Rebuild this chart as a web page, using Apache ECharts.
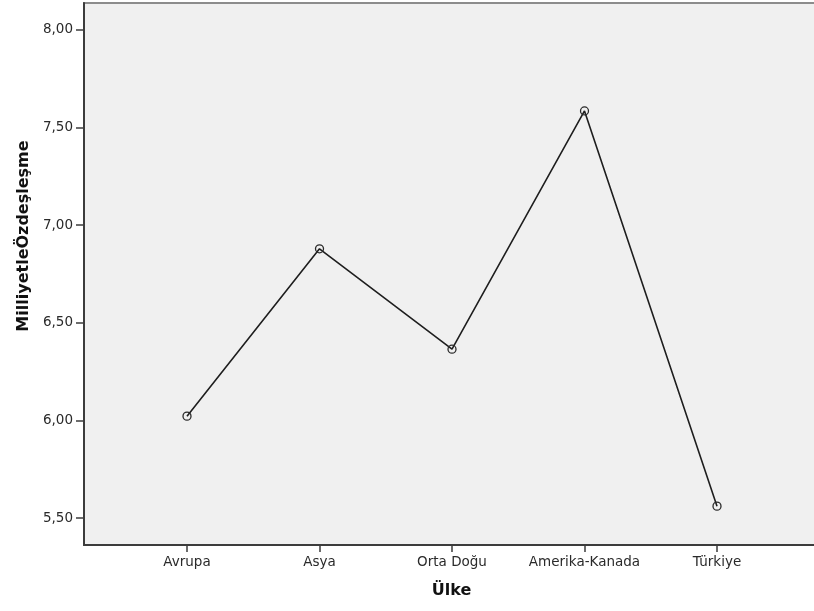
<!DOCTYPE html>
<html>
<head>
<meta charset="utf-8">
<script src="https://cdn.jsdelivr.net/npm/echarts@6/dist/echarts.min.js"></script>
<style>
html,body{margin:0;padding:0;background:#fff;}
#chart{width:814px;height:611px;}
</style>
</head>
<body>
<div id="chart"></div>
<script>
const categories = ['Avrupa', 'Asya', 'Orta Doğu', 'Amerika-Kanada', 'Türkiye'];
const values = [6.022, 6.879, 6.365, 7.585, 5.561];
const yTicks = [5.5, 6.0, 6.5, 7.0, 7.5, 8.0];
const xTicks = [1, 2, 3, 4, 5];
const xTitle = 'Ülke';
const yTitle = 'MilliyetleÖzdeşleşme';

const font = 'DejaVu Sans';
const chart = echarts.init(document.getElementById('chart'));
chart.setOption({
  animation: false,
  backgroundColor: '#ffffff',
  grid: {
    left: 84, top: 3, right: -5, bottom: 66,
    outerBoundsMode: 'none',
    containLabel: false,
    show: true, backgroundColor: '#f0f0f0', borderColor: '#8c8c8c', borderWidth: 2
  },
  xAxis: {
    type: 'value',
    min: 0.2226, max: 5.7698,
    name: xTitle,
    nameLocation: 'middle',
    nameGap: 38,
    nameTextStyle: { fontFamily: font, fontWeight: 'bold', fontSize: 16, color: '#111' },
    axisLine: { show: true, onZero: false, lineStyle: { color: '#3c3c3c', width: 2 } },
    axisTick: { show: true, customValues: xTicks, length: 7, lineStyle: { color: '#3c3c3c', width: 1.5 } },
    axisLabel: {
      customValues: xTicks, margin: 10,
      fontFamily: font, fontSize: 13.5, color: '#2a2a2a',
      formatter: v => categories[Math.round(v) - 1] || ''
    },
    splitLine: { show: false }
  },
  yAxis: {
    type: 'value',
    min: 5.362, max: 8.138,
    axisLine: { show: true, onZero: false, lineStyle: { color: '#3c3c3c', width: 2 } },
    axisTick: { show: true, customValues: yTicks, length: 8, lineStyle: { color: '#3c3c3c', width: 1.5 } },
    axisLabel: {
      customValues: yTicks, margin: 11,
      fontFamily: font, fontSize: 13.5, color: '#2a2a2a',
      formatter: v => v.toFixed(2).replace('.', ',')
    },
    splitLine: { show: false }
  },
  graphic: [{
    type: 'text',
    x: 24, y: 236,
    rotation: Math.PI / 2,
    style: {
      text: yTitle, x: 0, y: 0,
      textAlign: 'center', textVerticalAlign: 'middle',
      font: 'bold 16px "DejaVu Sans"', fill: '#111'
    }
  }],
  series: [{
    type: 'line',
    data: values.map((v, i) => [i + 1, v]),
    symbol: 'circle',
    symbolSize: 8,
    lineStyle: { color: '#1e1e1e', width: 1.6 },
    itemStyle: { color: 'rgba(0,0,0,0)', borderColor: '#2a2a2a', borderWidth: 1.3 }
  }]
});
</script>
</body>
</html>
